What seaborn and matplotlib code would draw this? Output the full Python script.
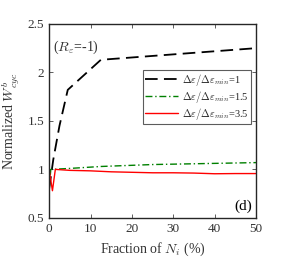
import numpy as np
import pandas as pd
import seaborn as sns
import matplotlib.pyplot as plt

# Fraction of N_i (%) and normalized cyclic energy for each strain-range ratio
frac_black = [0, 1, 2.5, 4.5, 12.5, 25, 37.5, 50]
w_black = [0.8, 1.1, 1.45, 1.82, 2.13, 2.17, 2.21, 2.25]

frac_green = [0, 0.4, 5, 12.5, 25, 37.5, 50]
w_green = [0.8, 1.0, 1.01, 1.03, 1.05, 1.06, 1.07]

frac_red = [0, 0.8, 1.5, 5, 10, 15, 20, 25, 30, 35, 40, 45, 50]
w_red = [1.0, 0.78, 1.0, 0.99, 0.985, 0.975, 0.97, 0.965, 0.965, 0.962, 0.955, 0.957, 0.957]

labels = [r'$\Delta\varepsilon/\Delta\varepsilon_{min}$=1',
          r'$\Delta\varepsilon/\Delta\varepsilon_{min}$=1.5',
          r'$\Delta\varepsilon/\Delta\varepsilon_{min}$=3.5']

sns.set_style('ticks')
plt.rcParams['font.family'] = ['Liberation Serif', 'DejaVu Serif']
plt.rcParams['mathtext.fontset'] = 'cm'

fig = plt.figure(figsize=(2.89, 2.60), dpi=100)
ax = fig.add_axes([0.170, 0.162, 0.716, 0.746])

sns.lineplot(x=frac_black, y=w_black, ax=ax, color='black', lw=1.3,
             label=labels[0])
sns.lineplot(x=frac_green, y=w_green, ax=ax, color='green', lw=1.0,
             label=labels[1])
sns.lineplot(x=frac_red, y=w_red, ax=ax, color='red', lw=1.0,
             label=labels[2])
ax.lines[0].set_linestyle((0, (7, 3.5)))
ax.lines[1].set_linestyle((0, (5, 2, 1, 2)))
ax.lines[2].set_linestyle('-')

ax.set_xlim(0, 50)
ax.set_ylim(0.5, 2.5)
ax.set_xticks([0, 10, 20, 30, 40, 50])
ax.set_yticks([0.5, 1, 1.5, 2, 2.5])
ax.set_yticklabels(['0.5', '1', '1.5', '2', '2.5'])
ax.tick_params(direction='in', top=True, right=True, labelsize=9.5,
               length=3, width=0.6, colors='#444444', labelcolor='#333333')
for s in ax.spines.values():
    s.set_linewidth(1.0)

ax.set_xlabel(r'Fraction of $N_i$ (%)', fontsize=10, color='#333333')
ax.set_ylabel(r'Normalized $W^{b}_{cyc}$', fontsize=10, color='#333333')

ax.text(0.02, 0.86, r'($R_\varepsilon$=-1)', transform=ax.transAxes,
        fontsize=10, color='#333333')
ax.text(0.98, 0.04, '(d)', transform=ax.transAxes, ha='right',
        fontsize=11, color='black')

# Legend handles follow the styled lines
handles = ax.lines[:3]
leg = ax.legend(handles, labels, loc='upper right',
                bbox_to_anchor=(0.975, 0.765), fontsize=7.5,
                frameon=True, fancybox=False, edgecolor='#333333',
                handlelength=3.2, handletextpad=0.4, borderpad=0.2,
                labelspacing=0.1, borderaxespad=0.0)
leg.get_frame().set_linewidth(0.8)

fig.savefig('out.png', dpi=100)
